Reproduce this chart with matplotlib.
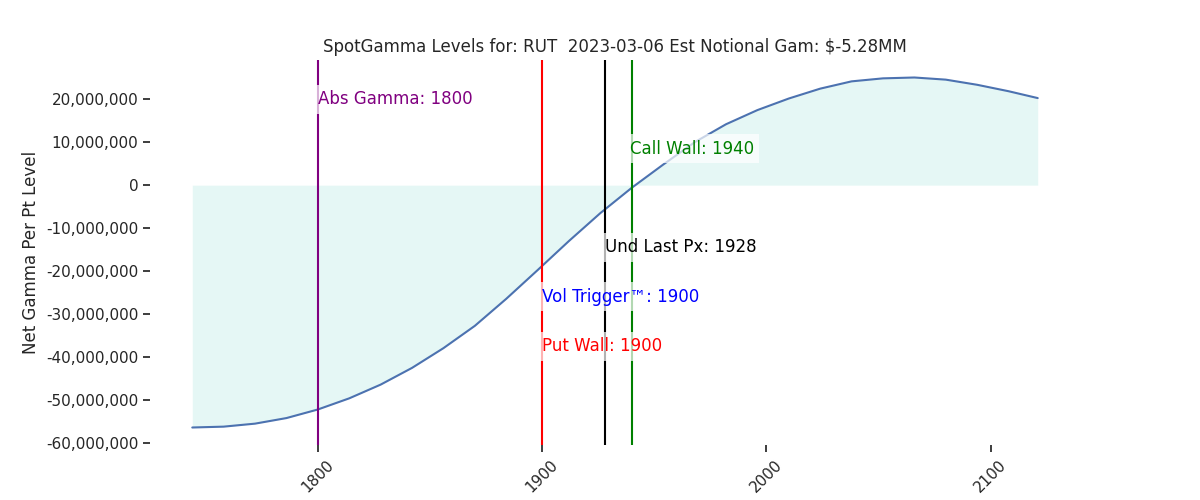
import matplotlib
matplotlib.use("Agg")
import matplotlib.pyplot as plt
import matplotlib.ticker as mt
import seaborn as sns

sns.set_theme(style="white")
plt.rcParams['font.family'] = ['DejaVu Sans']

strikes = [1744, 1758, 1772, 1786, 1800, 1814, 1828, 1842, 1856, 1870, 1884, 1898, 1912, 1926,
           1940, 1954, 1968, 1982, 1996, 2010, 2024, 2038, 2052, 2066, 2080, 2094, 2108, 2121]
gamma_m = [-56.5, -56.3, -55.6, -54.3, -52.3, -49.7, -46.5, -42.6, -38.0, -32.8, -26.5, -19.8, -13.0, -6.5,
           -0.6, 4.8, 10.0, 14.2, 17.5, 20.2, 22.5, 24.2, 24.9, 25.1, 24.6, 23.4, 21.9, 20.3]
gamma = [v * 1e6 for v in gamma_m]

abs_gamma, put_wall, vol_trigger, last_px, call_wall = 1800, 1900, 1900, 1928, 1940

fig, ax = plt.subplots(figsize=(12, 5), dpi=100)
ax.fill_between(strikes, 0, gamma, color='#c6efe9', alpha=0.45, lw=0)
ax.plot(strikes, gamma, color='#4c72b0', lw=1.5)

box = dict(facecolor='white', edgecolor='none', alpha=0.7, pad=4)
ax.axvline(abs_gamma, color='purple', lw=1.5)
ax.text(abs_gamma, 20e6, f"Abs Gamma: {abs_gamma}", color='purple', fontsize=12, va='center', bbox=box)
ax.axvline(put_wall, color='red', lw=1.5)
ax.axvline(last_px, color='black', lw=1.5)
ax.axvline(call_wall, color='green', lw=1.5)
ax.text(call_wall - 1, 8.5e6, f"Call Wall: {call_wall}", color='green', fontsize=12, va='center', bbox=box)
ax.text(last_px, -14.5e6, f"Und Last Px: {last_px}", color='black', fontsize=12, va='center', bbox=box)
ax.text(vol_trigger, -26e6, f"Vol Trigger™: {vol_trigger}", color='blue', fontsize=12, va='center', bbox=box)
ax.text(put_wall, -37.5e6, f"Put Wall: {put_wall}", color='red', fontsize=12, va='center', bbox=box)

ax.set_title("SpotGamma Levels for: RUT  2023-03-06 Est Notional Gam: $-5.28MM", fontsize=12)
ax.set_ylabel("Net Gamma Per Pt Level", fontsize=12)
ax.yaxis.set_major_formatter(mt.FuncFormatter(lambda v, p: f"{v:,.0f}"))
ax.set_xticks([1800, 1900, 2000, 2100])
ax.tick_params(axis='x', rotation=45, bottom=True, length=5)
ax.tick_params(axis='y', left=True, length=5)
for s in ax.spines.values():
    s.set_visible(False)
fig.subplots_adjust(left=0.125, right=0.9, top=0.88, bottom=0.11)
fig.savefig("out.png")
